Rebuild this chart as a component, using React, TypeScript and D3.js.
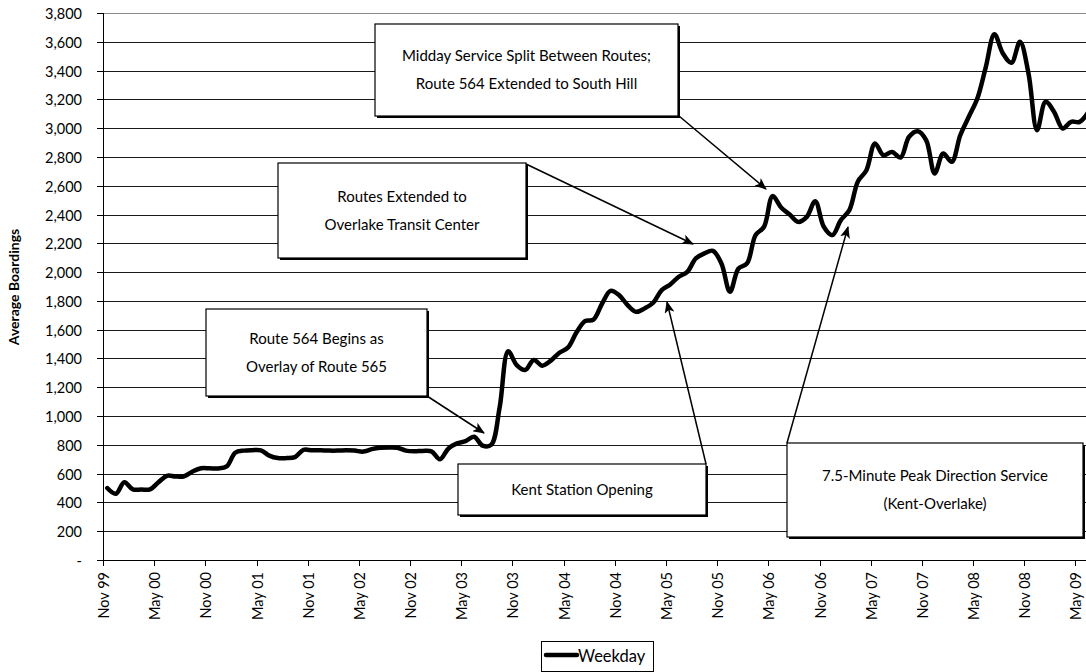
import React from "react";
import * as d3 from "d3";

// Monthly average weekday boardings, Nov 1999 through Jun 2009
const firstMonth = new Date(1999, 10, 1);
const weekdayBoardings = [
  500, 460, 540, 490, 490, 490, 540, 585, 580, 582, 615, 637,
  637, 636, 650, 745, 760, 763, 762, 725, 708, 708, 715, 765,
  762, 762, 760, 760, 762, 760, 753, 770, 780, 782, 780, 760,
  755, 758, 755, 700, 775, 810, 826, 856, 795, 800, 1060, 1450,
  1354, 1320, 1390, 1350, 1385, 1440, 1475, 1580, 1660, 1670, 1780, 1870,
  1840, 1771, 1724, 1748, 1787, 1875, 1914, 1968, 2002, 2095, 2130, 2148,
  2060, 1863, 2025, 2060, 2257, 2315, 2528, 2449, 2400, 2349, 2384, 2493,
  2315, 2257, 2361, 2431, 2630, 2708, 2894, 2812, 2835, 2796, 2940, 2979,
  2917, 2685, 2824, 2766, 2951, 3079, 3206, 3426, 3653, 3519, 3454, 3600,
  3380, 2986, 3183, 3113, 2998, 3044, 3044, 3110,
];

const yTicks = d3.range(0, 3801, 200);
const xTickLabels = [
  "Nov 99", "May 00", "Nov 00", "May 01", "Nov 01", "May 02", "Nov 02",
  "May 03", "Nov 03", "May 04", "Nov 04", "May 05", "Nov 05", "May 06",
  "Nov 06", "May 07", "Nov 07", "May 08", "Nov 08", "May 09",
];
const seriesName = "Weekday";
const yTitle = "Average Boardings";

// Callout boxes: text lines, box bounds and arrow from box corner to tip
const callouts = [
  {
    lines: ["Midday Service Split Between Routes;", "Route 564 Extended to South Hill"],
    box: [375, 24, 678, 116],
    arrow: [679, 116, 766, 189],
  },
  {
    lines: ["Routes Extended to", "Overlake Transit Center"],
    box: [278, 163, 526, 258],
    arrow: [526, 164, 693, 244],
  },
  {
    lines: ["Route 564 Begins as", "Overlay of Route 565"],
    box: [206, 309, 427, 396],
    arrow: [427, 396, 484, 433],
  },
  {
    lines: ["Kent Station Opening"],
    box: [458, 464, 706, 515],
    arrow: [706, 464, 667, 302],
  },
  {
    lines: ["7.5-Minute Peak Direction Service", "(Kent-Overlake)"],
    box: [787, 443, 1083, 537],
    arrow: [787, 443, 848, 227],
  },
];

const W = 1086;
const H = 672;
const FONT = "Lato, 'Open Sans', sans-serif";
const plot = { left: 103, top: 13, bottom: 560, right: 1086 };
const monthWidth = 8.53;

export default function App() {
  const x = d3
    .scaleLinear()
    .domain([0, weekdayBoardings.length])
    .range([plot.left, plot.left + weekdayBoardings.length * monthWidth]);
  const y = d3.scaleLinear().domain([0, 3800]).range([plot.bottom, plot.top]);

  const line = d3
    .line<number>()
    .x((_, i) => x(i + 0.5))
    .y((d) => y(d))
    .curve(d3.curveCatmullRom.alpha(0.5));

  const fmt = d3.format(",");

  return (
    <svg
      width={W}
      height={H}
      style={{ position: "absolute", left: 0, top: 0, background: "#fff" }}
      fontFamily={FONT}
      data-start={firstMonth.toISOString()}
    >
      <defs>
        <marker
          id="arrowhead"
          viewBox="0 0 12 10"
          refX="11"
          refY="5"
          markerWidth="12"
          markerHeight="10"
          markerUnits="userSpaceOnUse"
          orient="auto"
        >
          <path d="M0,0 L12,5 L0,10 L3,5 Z" fill="#000" />
        </marker>
        <clipPath id="plotClip">
          <rect x={plot.left} y={0} width={plot.right - plot.left} height={plot.bottom + 5} />
        </clipPath>
      </defs>

      {/* horizontal gridlines */}
      {yTicks.map((t) => (
        <line
          key={"g" + t}
          x1={plot.left}
          x2={plot.right}
          y1={Math.round(y(t)) + 0.5}
          y2={Math.round(y(t)) + 0.5}
          stroke={t === 3800 ? "#8a8a8a" : "#1a1a1a"}
          strokeWidth={1}
        />
      ))}

      {/* y axis */}
      <line x1={plot.left + 0.5} x2={plot.left + 0.5} y1={plot.top} y2={plot.bottom} stroke="#000" />
      {yTicks.map((t) => (
        <g key={"yt" + t} transform={`translate(0,${Math.round(y(t)) + 0.5})`}>
          <line x1={plot.left - 6} x2={plot.left} stroke="#000" />
          <text x={82} dy="0.35em" textAnchor="end" fontSize={14.5} fill="#000">
            {t === 0 ? "-" : fmt(t)}
          </text>
        </g>
      ))}
      <text
        transform={`translate(19,287) rotate(-90)`}
        textAnchor="middle"
        fontSize={14}
        fontWeight="bold"
      >
        {yTitle}
      </text>

      {/* x axis */}
      <line x1={plot.left} x2={plot.right} y1={plot.bottom + 0.5} y2={plot.bottom + 0.5} stroke="#000" />
      {xTickLabels.map((label, k) => {
        const xx = Math.round(x(k * 6)) + 0.5;
        return (
          <g key={"xt" + label + k} transform={`translate(${xx},${plot.bottom})`}>
            <line y1={0} y2={6} stroke="#000" />
            <text
              transform="translate(0,12) rotate(-90)"
              dy="0.35em"
              textAnchor="end"
              fontSize={14.5}
            >
              {label}
            </text>
          </g>
        );
      })}

      {/* weekday boardings line */}
      <path
        d={line(weekdayBoardings) || ""}
        fill="none"
        stroke="#000"
        strokeWidth={4.5}
        strokeLinejoin="round"
        strokeLinecap="round"
        clipPath="url(#plotClip)"
      />

      {/* callouts */}
      {callouts.map((c, i) => {
        const [x0, y0, x1, y1] = c.box;
        const cx = (x0 + x1) / 2;
        const n = c.lines.length;
        const cy = (y0 + y1) / 2;
        return (
          <g key={"c" + i}>
            <line
              x1={c.arrow[0]}
              y1={c.arrow[1]}
              x2={c.arrow[2]}
              y2={c.arrow[3]}
              stroke="#000"
              strokeWidth={1.5}
              markerEnd="url(#arrowhead)"
            />
            <rect x={x0 + 2} y={y0 + 2} width={x1 - x0} height={y1 - y0} fill="#000" />
            <rect x={x0} y={y0} width={x1 - x0} height={y1 - y0} fill="#fff" stroke="#000" strokeWidth={1.2} />
            {c.lines.map((t, j) => (
              <text
                key={j}
                x={cx}
                y={cy + (j - (n - 1) / 2) * 28}
                dy="0.35em"
                textAnchor="middle"
                fontSize={15}
              >
                {t}
              </text>
            ))}
          </g>
        );
      })}

      {/* legend */}
      <rect x={541.5} y={641.5} width={112} height={30} fill="#fff" stroke="#000" />
      <line x1={546} x2={577} y1={655} y2={655} stroke="#000" strokeWidth={4.5} strokeLinecap="round" />
      <text x={578} y={656} dy="0.35em" fontSize={16.5}>
        {seriesName}
      </text>
    </svg>
  );
}
